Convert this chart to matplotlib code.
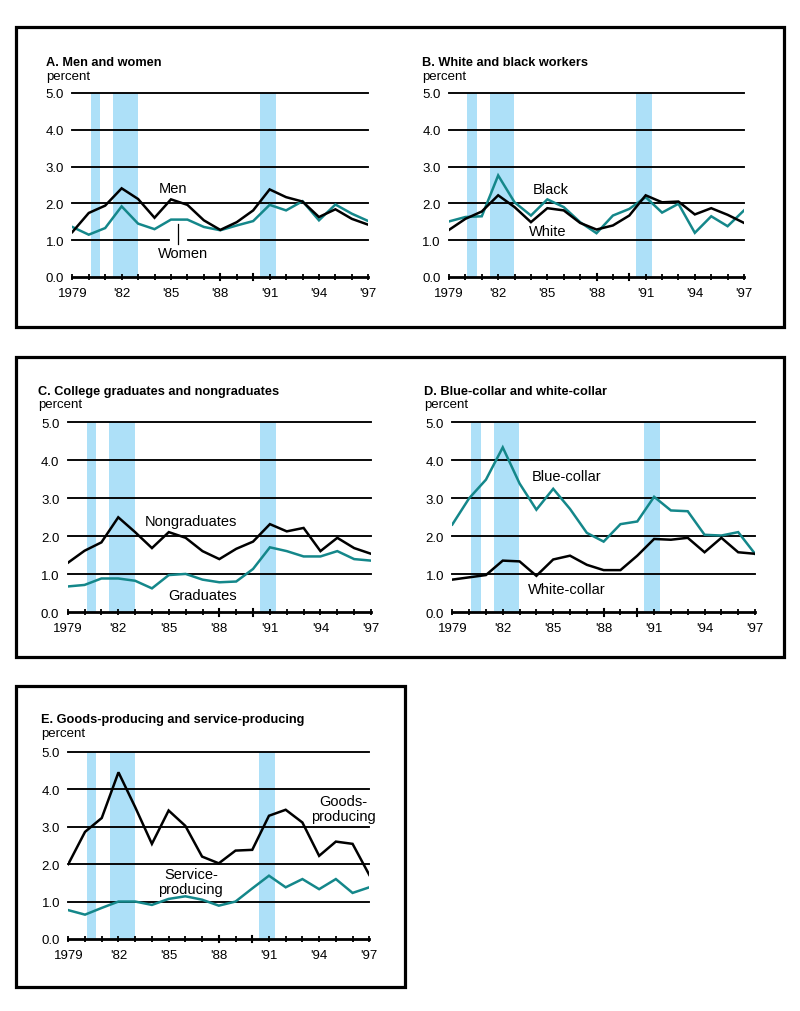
import matplotlib
matplotlib.use('Agg')
import matplotlib.pyplot as plt
from matplotlib.patches import Rectangle

plt.rcParams['font.family'] = ['Liberation Sans', 'DejaVu Sans']

years = list(range(1979, 1998))
recessions = [(1980.12, 1980.68), (1981.48, 1982.97), (1990.4, 1991.38)]
tick_years = [1979, 1982, 1985, 1988, 1991, 1994, 1997]
tick_labels = ['1979', "'82", "'85", "'88", "'91", "'94", "'97"]
break_years = [1988, 1990]
yticks = [0, 1, 2, 3, 4, 5]
ytick_labels = ['0.0', '1.0', '2.0', '3.0', '4.0', '5.0']

# A. Men and women
men = [1.22, 1.74, 1.94, 2.41, 2.12, 1.61, 2.11, 1.96, 1.54, 1.28, 1.49, 1.81,
       2.38, 2.17, 2.05, 1.63, 1.84, 1.58, 1.42]
women = [1.36, 1.15, 1.33, 1.92, 1.45, 1.30, 1.56, 1.56, 1.36, 1.27, 1.40, 1.52,
         1.96, 1.81, 2.06, 1.54, 1.97, 1.72, 1.52]
# B. White and black workers
white = [1.28, 1.58, 1.78, 2.22, 1.90, 1.49, 1.87, 1.81, 1.47, 1.29, 1.40, 1.67,
         2.22, 2.03, 2.05, 1.70, 1.87, 1.69, 1.47]
black = [1.51, 1.63, 1.65, 2.76, 2.03, 1.67, 2.11, 1.90, 1.49, 1.19, 1.67, 1.85,
         2.17, 1.75, 1.99, 1.20, 1.65, 1.38, 1.81]
# C. College graduates and nongraduates
nongrad = [1.30, 1.62, 1.84, 2.50, 2.11, 1.69, 2.11, 1.96, 1.61, 1.40, 1.67, 1.86,
           2.32, 2.13, 2.22, 1.61, 1.96, 1.69, 1.54]
grad = [0.68, 0.72, 0.89, 0.89, 0.83, 0.63, 0.98, 1.01, 0.86, 0.79, 0.81, 1.14,
        1.71, 1.61, 1.47, 1.47, 1.61, 1.40, 1.36]
# D. Blue-collar and white-collar
blue_collar = [2.31, 3.00, 3.49, 4.34, 3.39, 2.70, 3.25, 2.72, 2.09, 1.86, 2.32, 2.39,
               3.04, 2.68, 2.66, 2.04, 2.02, 2.11, 1.54]
white_collar = [0.86, 0.92, 0.98, 1.36, 1.34, 0.96, 1.39, 1.49, 1.25, 1.11, 1.11, 1.49,
                1.93, 1.91, 1.96, 1.58, 1.96, 1.58, 1.54]
# E. Goods-producing and service-producing
goods = [2.00, 2.86, 3.23, 4.45, 3.52, 2.54, 3.43, 3.02, 2.20, 2.02, 2.36, 2.38,
         3.29, 3.45, 3.11, 2.22, 2.60, 2.54, 1.71]
service = [0.77, 0.65, 0.83, 1.00, 1.00, 0.91, 1.07, 1.14, 1.05, 0.89, 1.00, 1.35,
           1.69, 1.38, 1.60, 1.33, 1.60, 1.23, 1.38]

TEAL = '#14878a'
BAND = '#ade0f8'
LBL = 10.5
W, H = 800, 1012
fig = plt.figure(figsize=(W / 100, H / 100), dpi=100)


def px_box(l, t, r, b):
    return [l / W, 1 - b / H, (r - l) / W, (b - t) / H]


def frame(l, t, r, b):
    fig.patches.append(Rectangle((l / W, 1 - b / H), (r - l) / W, (b - t) / H,
                                 transform=fig.transFigure, fill=False,
                                 edgecolor='black', linewidth=2.3))


def title(x, y, text):
    fig.text(x / W, 1 - y / H, text, fontsize=9.2, fontweight='bold',
             ha='left', va='baseline')
    fig.text(x / W, 1 - (y + 13.5) / H, 'percent', fontsize=9.5,
             ha='left', va='baseline')


def panel(rect, s_black, s_teal):
    ax = fig.add_axes(px_box(*rect))
    ax.set_xlim(years[0], years[-1])
    ax.set_ylim(0, 5)
    for a, b in recessions:
        ax.axvspan(a, b, color=BAND, lw=0, zorder=0)
    for v in yticks[1:]:
        ax.axhline(v, color='black', lw=1.35, zorder=1, clip_on=False)
    ax.plot(years, s_black, color='black', lw=1.8, zorder=4, solid_joinstyle='miter')
    ax.plot(years, s_teal, color=TEAL, lw=1.8, zorder=3, solid_joinstyle='miter')
    for sp in ['top', 'right', 'left']:
        ax.spines[sp].set_visible(False)
    ax.spines['bottom'].set_linewidth(2.0)
    ax.spines['bottom'].set_zorder(5)
    ax.set_yticks(yticks)
    ax.set_yticklabels(ytick_labels, fontsize=9.5)
    ax.tick_params(axis='y', length=0, pad=6)
    ax.set_xticks(tick_years)
    ax.set_xticklabels(tick_labels, fontsize=9.5)
    ax.set_xticks(years, minor=True)
    ax.tick_params(axis='x', which='both', direction='inout', length=4,
                   width=1.3, pad=5)
    for yr in break_years:
        ax.plot([yr, yr], [-0.09, 0.09], color='black', lw=1.5,
                zorder=6, clip_on=False)
    ax.patch.set_alpha(0)
    return ax


# frames
frame(16, 28, 784, 328)
frame(16, 358, 784, 658)
frame(16, 687, 405, 988)

# Panel A
title(46, 66.5, 'A. Men and women')
axA = panel((72.3, 94, 368.3, 278), men, women)
axA.text(1985.1, 2.41, 'Men', fontsize=LBL, ha='center', va='center', zorder=6)
axA.plot([1985.08, 1985.85], [1.0, 1.0], color='white', lw=3, zorder=2)
axA.plot([1985.45, 1985.45], [1.45, 0.9], color='black', lw=0.9, zorder=6)
axA.text(1985.75, 0.64, 'Women', fontsize=LBL, ha='center', va='center', zorder=6)

# Panel B
title(421.7, 66.5, 'B. White and black workers')
axB = panel((449, 94, 744, 278), white, black)
axB.text(1985.2, 2.40, 'Black', fontsize=LBL, ha='center', va='center', zorder=6)
axB.text(1985.0, 1.26, 'White', fontsize=LBL, ha='center', va='center', zorder=6)

# Panel C
title(37.7, 395, 'C. College graduates and nongraduates')
axC = panel((67.7, 423.3, 371, 613.3), nongrad, grad)
axC.text(1986.3, 2.39, 'Nongraduates', fontsize=LBL, ha='center', va='center', zorder=6)
axC.text(1987.0, 0.46, 'Graduates', fontsize=LBL, ha='center', va='center', zorder=6)

# Panel D
title(424, 395, 'D. Blue-collar and white-collar')
axD = panel((452.3, 423.3, 755, 613.3), white_collar, blue_collar)
axD.text(1985.8, 3.58, 'Blue-collar', fontsize=LBL, ha='center', va='center', zorder=6)
axD.text(1985.8, 0.61, 'White-collar', fontsize=LBL, ha='center', va='center', zorder=6)

# Panel E
title(41, 723.3, 'E. Goods-producing and service-producing')
axE = panel((68.3, 752.7, 369.3, 940), goods, service)
axE.text(1995.45, 3.48, 'Goods-\nproducing', fontsize=LBL, ha='center', va='center',
         linespacing=1.05, zorder=6)
axE.text(1986.33, 1.53, 'Service-\nproducing', fontsize=LBL, ha='center', va='center',
         linespacing=1.05, zorder=6)

fig.savefig('out.png', dpi=100)
